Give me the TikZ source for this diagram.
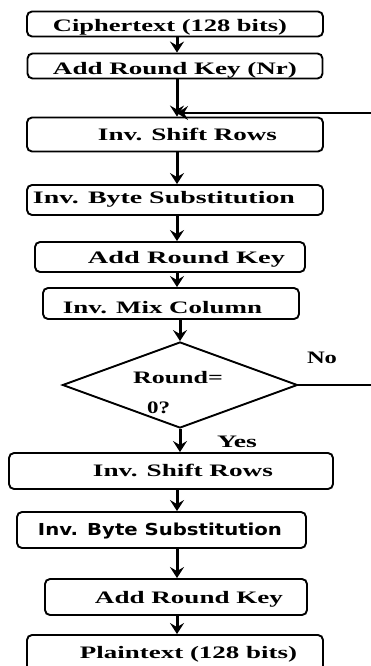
\documentclass[tikz,border=0pt]{standalone}
\usepackage{fontspec}
\usepackage{graphicx}
\setmainfont{Liberation Serif}
\newfontfamily\sansf{DejaVu Sans}
\usetikzlibrary{arrows.meta,shapes.geometric}
\newcommand{\fitw}[2]{\resizebox{#1}{\height}{#2}}
\begin{document}
\begin{tikzpicture}[x=1pt,y=-1pt,
  box/.style={draw, line width=1.9pt, rounded corners=5pt, inner sep=0pt},
  tx/.style={anchor=base, inner sep=0pt, font=\fontsize{17.5}{19}\selectfont\bfseries},
  stx/.style={anchor=base, inner sep=0pt, font=\fontsize{16.5}{18}\selectfont\sansf\bfseries},
  arr/.style={-{Stealth[length=11pt,width=14pt,inset=4pt]}, line width=3pt},
  plain/.style={line width=1.9pt}]
\fill[white] (0,0) rectangle (371,666);
\useasboundingbox (0,0) rectangle (371,666);
\coordinate (ax) at (177,0);
% boxes
\node[box, minimum width=296pt, minimum height=25pt] (b1) at (175,24) {};
\node[box, minimum width=295pt, minimum height=25pt] (b2) at (175,66) {};
\node[box, minimum width=296pt, minimum height=34pt] (b3) at (175,134.5) {};
\node[box, minimum width=296pt, minimum height=30pt] (b4) at (175,200) {};
\node[box, minimum width=270pt, minimum height=30pt] (b5) at (170,257) {};
\node[box, minimum width=256pt, minimum height=31pt] (b6) at (171,303.5) {};
\node[draw, diamond, line width=1.9pt, minimum width=235pt, minimum height=86pt, aspect=2.73, inner sep=0pt] (d) at (180,385) {};
\node[box, minimum width=324pt, minimum height=36pt] (b7) at (171,471) {};
\node[box, minimum width=289pt, minimum height=36pt] (b8) at (161.5,530) {};
\node[box, minimum width=262pt, minimum height=36pt] (b9) at (176,597) {};
\node[box, minimum width=296pt, minimum height=36pt] (b10) at (175,653) {};
% texts
\node[tx] (t1) at (170,31.7) {\fitw{234pt}{Ciphertext (128 bits)}};
\node[tx] (t2) at (175,75) {\fitw{244pt}{Add Round Key (Nr)}};
\node[tx] (t3) at (187.5,140) {\fitw{179pt}{Inv. Shift Rows}};
\node[tx] (t4) at (164,203) {\fitw{262pt}{Inv. Byte Substitution}};
\node[tx] (t5) at (186.5,263) {\fitw{197pt}{Add Round Key}};
\node[tx] (t6) at (162.5,313) {\fitw{199pt}{Inv. Mix Column}};
\node[tx] (t7) at (178,383) {\fitw{90pt}{Round=}};
\node[tx] (t8) at (158.5,413) {\fitw{23pt}{0?}};
\node[tx] (no) at (322,363) {\fitw{30pt}{No}};
\node[tx] (yes) at (237,447) {\fitw{40pt}{Yes}};
\node[tx] (t9) at (183,476) {\fitw{180pt}{Inv. Shift Rows}};
\node[stx] (t10) at (160,535) {\fitw{244pt}{Inv. Byte Substitution}};
\node[tx] (t11) at (189,603) {\fitw{188pt}{Add Round Key}};
\node[tx] (t12) at (188.5,658) {\fitw{217pt}{Plaintext (128 bits)}};
% arrows
\draw[arr] (b1.south -| ax) -- (b2.north -| ax);
\draw[arr] (b2.south -| ax) -- (b3.north -| ax);
\draw[arr] (b3.south -| ax) -- (b4.north -| ax);
\draw[arr] (b4.south -| ax) -- (b5.north -| ax);
\draw[arr] (b5.south -| ax) -- (b6.north -| ax);
\draw[arr] (b6.south -| d.north) -- (d.north);
\draw[arr] (d.south) -- (d.south |- b7.north);
\draw[arr] (b7.south -| ax) -- (b8.north -| ax);
\draw[arr] (b8.south -| ax) -- (b9.north -| ax);
\draw[arr] (b9.south -| ax) -- (b10.north -| ax);
% loop-back lines
\coordinate (r1) at (372,113);
\coordinate (r2) at (372,385);
\draw[arr, line width=2.4pt] (r1) -- (r1 -| ax);
\draw[plain] (d.east) -- (r2);
\end{tikzpicture}
\end{document}
